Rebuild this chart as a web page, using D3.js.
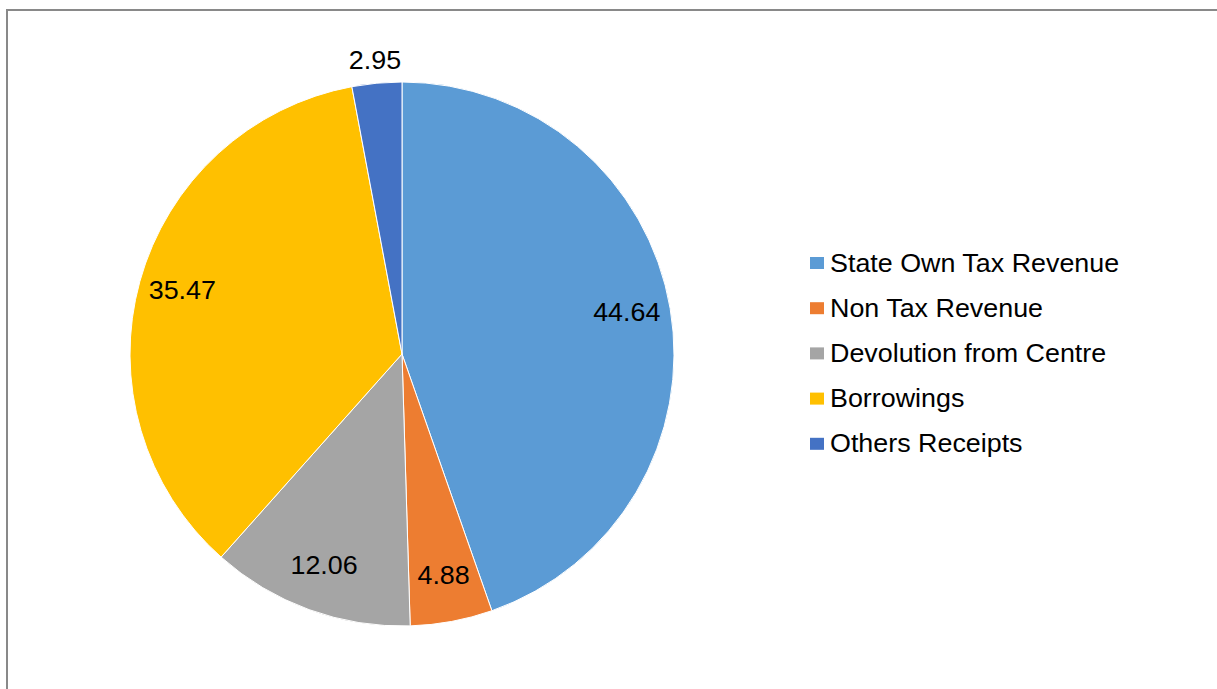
<!DOCTYPE html>
<html>
<head>
<meta charset="utf-8">
<script src="https://cdn.jsdelivr.net/npm/d3@7"></script>
<style>
  html, body { margin: 0; padding: 0; background: #fff; }
  svg { display: block; }
  text { font-family: "Liberation Sans", Arial, sans-serif; fill: #000; }
</style>
</head>
<body>
<svg id="chart" width="1217" height="689"></svg>
<script>
const categories = ["State Own Tax Revenue", "Non Tax Revenue", "Devolution from Centre", "Borrowings", "Others Receipts"];
const values = [44.64, 4.88, 12.06, 35.47, 2.95];
const labels = ["44.64", "4.88", "12.06", "35.47", "2.95"];
const colors = ["#5B9BD5", "#ED7D31", "#A5A5A5", "#FFC000", "#4472C4"];

const svg = d3.select("#chart");
const W = 1217, H = 689;
const SX = 1.075; // horizontal text stretch seen in the reference

// frame (top and left edges visible)
svg.append("line").attr("x1", 7).attr("y1", 10).attr("x2", W).attr("y2", 10)
  .attr("stroke", "#898989").attr("stroke-width", 2);
svg.append("line").attr("x1", 7).attr("y1", 9).attr("x2", 7).attr("y2", H)
  .attr("stroke", "#898989").attr("stroke-width", 2);

const cx = 402, cy = 354, R = 272;
const data = categories.map((c, i) => ({ cat: c, value: values[i], label: labels[i], color: colors[i] }));

const pie = d3.pie().value(d => d.value).sort(null);
const arcs = pie(data);
const arc = d3.arc().innerRadius(0).outerRadius(R);
const labelArcIn = d3.arc().innerRadius(228).outerRadius(228);
const labelArcOut = d3.arc().innerRadius(292).outerRadius(292);

const g = svg.append("g").attr("transform", `translate(${cx},${cy})`);
g.selectAll("path").data(arcs).enter().append("path")
  .attr("d", arc)
  .attr("fill", d => d.data.color)
  .attr("stroke", "#fff")
  .attr("stroke-width", 1);

g.selectAll("text.lbl").data(arcs).enter().append("text")
  .attr("class", "lbl")
  .attr("transform", d => {
    const small = d.data.value < 4;
    const p = (small ? labelArcOut : labelArcIn).centroid(d);
    return `translate(${p[0]},${p[1] - 3}) scale(${SX},1)`;
  })
  .attr("text-anchor", "middle")
  .attr("dominant-baseline", "central")
  .style("font-size", "25px")
  .text(d => d.data.label);

// legend
const leg = svg.append("g").attr("transform", "translate(810,263)");
const rowH = 45.2;
const items = leg.selectAll("g").data(data).enter().append("g")
  .attr("transform", (d, i) => `translate(0,${i * rowH})`);
items.append("rect").attr("x", 0).attr("y", -6).attr("width", 14).attr("height", 12)
  .attr("fill", d => d.color);
items.append("text")
  .attr("transform", `translate(20,0) scale(${SX},1)`)
  .attr("dominant-baseline", "central")
  .style("font-size", "25px")
  .text(d => d.cat);
</script>
</body>
</html>
